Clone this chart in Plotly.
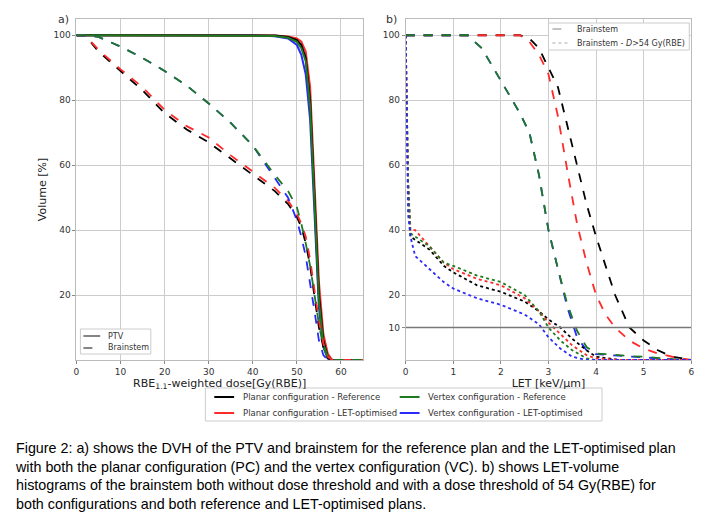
import plotly.graph_objects as go

W, H = 717, 522
BLACK, RED, GREEN, BLUE = "black", "#ff2a2a", "#1e7a1e", "#2a2aff"

# Panel a: DVH
ptv_dose = [0, 40, 45, 48, 50, 51, 52, 53, 54, 55, 56, 57, 58, 65]
ptv_ref_pc = [100, 100, 99.9, 99.5, 98.5, 97, 93, 80, 50, 20, 6, 1, 0, 0]
ptv_let_pc = [100, 100, 99.9, 99.6, 99, 98, 95, 84, 55, 24, 8, 2, 0, 0]
ptv_ref_vc = [100, 100, 99.8, 99.2, 98, 96, 92, 78, 48, 18, 5, 1, 0, 0]
ptv_let_vc = [100, 100, 99.7, 99, 97, 94, 88, 74, 45, 16, 4, 0.5, 0, 0]

bs_dose = [0, 2, 5, 10, 15, 20, 25, 30, 35, 40, 45, 48, 50, 51, 52, 53, 54, 55, 56, 57, 58, 65]
bs_ref_pc = [100, 100, 95, 89, 83, 76, 71, 67, 62, 57, 52, 48, 44, 41, 36, 29, 20, 10, 4, 0.5, 0, 0]
bs_let_pc = [100, 100, 95.5, 89.5, 84, 77, 72, 68.5, 63, 58, 53, 49, 45, 42, 38, 31, 22, 12, 5, 1, 0, 0]
bs_ref_vc = [100, 100, 99.5, 96.5, 93, 89, 84.5, 79, 73, 66, 57, 52, 47, 42, 36, 29, 20, 11, 4, 0.5, 0, 0]
bs_let_vc = [100, 100, 99.5, 96.5, 93, 89, 84.5, 79, 73, 66, 56, 50, 43, 38, 32, 24, 15, 6, 1.5, 0, 0, 0]

# Panel b: LVH
let_d = [0, 1.0, 1.3, 1.6, 2.0, 2.4, 2.6, 2.8, 3.0, 3.2, 3.4, 3.6, 3.8, 4.0, 4.2, 4.4, 4.7, 5.0, 5.3, 5.6, 6.0]
lvh_ref_pc = [100, 100, 100, 100, 100, 100, 99, 96, 90, 84, 72, 60, 48, 38, 29, 20, 10, 6, 3, 1, 0]
lvh_let_pc = [100, 100, 100, 100, 100, 100, 98, 94, 88, 75, 58, 42, 30, 20, 14, 10, 6, 3.5, 2, 1, 0]
lvh_ref_vc = [100, 100, 100, 96, 86, 76, 70, 57, 40, 28, 17, 9, 4, 2, 1.8, 1.5, 1.2, 1, 0.6, 0.3, 0]
lvh_let_vc = [100, 100, 100, 96, 86, 76, 70, 57, 40, 28, 16, 7, 3, 1.8, 1.6, 1.3, 1.1, 0.9, 0.5, 0.2, 0]

dt_let = [0, 0.02, 0.05, 0.1, 0.2, 0.5, 0.8, 1.0, 1.5, 2.0, 2.5, 2.8, 3.0, 3.25, 3.5, 3.8, 4.0, 4.5, 6.0]
dt_ref_pc = [100, 80, 55, 38, 37, 34, 29, 27, 23, 21, 18, 15, 12.5, 10, 6.5, 3, 1, 0, 0]
dt_let_pc = [100, 80, 55, 40, 40, 35, 30, 28, 25, 23, 19, 15, 11.5, 8, 4.5, 1.5, 0.5, 0, 0]
dt_ref_vc = [100, 80, 55, 39, 38, 35, 30, 29, 26, 24, 20, 15, 10, 6, 3, 0.5, 0, 0, 0]
dt_let_vc = [100, 70, 45, 38, 32, 28, 24, 22, 19, 17, 14, 11, 7, 3.5, 1, 0, 0, 0, 0]

names = ["Planar configuration - Reference", "Vertex configuration - Reference",
         "Planar configuration - LET-optimised", "Vertex configuration - LET-optimised"]
cols = [BLACK, GREEN, RED, BLUE]

fig = go.Figure()
def add(x, y, c, dash, xa="x", ya="y", w=1.8):
    fig.add_trace(go.Scatter(x=x, y=y, mode="lines", line=dict(color=c, dash=dash, width=w),
                             xaxis=xa, yaxis=ya, showlegend=False, hoverinfo="skip"))

for y, c in [(ptv_let_vc, BLUE), (ptv_let_pc, RED), (ptv_ref_pc, BLACK), (ptv_ref_vc, GREEN)]:
    add(ptv_dose, y, c, "solid", w=2)
for y, c in [(bs_ref_pc, BLACK), (bs_let_pc, RED), (bs_let_vc, BLUE), (bs_ref_vc, GREEN)]:
    add(bs_dose, y, c, "dash")
for y, c in [(lvh_ref_pc, BLACK), (lvh_let_pc, RED), (lvh_let_vc, BLUE), (lvh_ref_vc, GREEN)]:
    add(let_d, y, c, "dash", "x2", "y2")
for y, c in [(dt_ref_pc, BLACK), (dt_let_pc, RED), (dt_ref_vc, GREEN), (dt_let_vc, BLUE)]:
    add(dt_let, y, c, "dot", "x2", "y2")
add([0, 6], [10, 10], "#777", "solid", "x2", "y2", w=1.5)

ax = dict(showgrid=True, gridcolor="#cccccc", zeroline=False, showline=True, linecolor="#bbbbbb",
          mirror=True, ticks="outside", ticklen=3, tickcolor="#888", tickfont=dict(size=9, color="#333"))
top, bot = 1 - 11 / H, 1 - 352 / H
fig.update_layout(
    width=W, height=H, margin=dict(l=0, r=0, t=0, b=0), paper_bgcolor="white", plot_bgcolor="white",
    font=dict(family="DejaVu Sans", color="#222"), showlegend=False,
    xaxis=dict(ax, domain=[66 / W, 355 / W], range=[0, 65], tickvals=[0, 10, 20, 30, 40, 50, 60],
               title=dict(text="RBE<sub>1.1</sub>-weighted dose[Gy(RBE)]", font=dict(size=11), standoff=2)),
    yaxis=dict(ax, domain=[bot, top], range=[0, 105], tickvals=[20, 40, 60, 80, 100],
               title=dict(text="Volume [%]", font=dict(size=11), standoff=4)),
    xaxis2=dict(ax, domain=[398 / W, 686 / W], range=[0, 6], tickvals=[0, 1, 2, 3, 4, 5, 6], anchor="y2",
                title=dict(text="LET [keV/μm]", font=dict(size=11), standoff=2)),
    yaxis2=dict(ax, domain=[bot, top], range=[0, 105], tickvals=[10, 20, 40, 60, 80, 100], anchor="x2"),
)

def leg_line(x0, x1, yp, dash, color="#666", w=1.6):
    fig.add_shape(type="line", xref="paper", yref="paper", x0=x0 / W, x1=x1 / W, y0=1 - yp / H, y1=1 - yp / H,
                  line=dict(color=color, dash=dash, width=w))
def txt(x, yp, t, size=8, anchor="left"):
    fig.add_annotation(xref="paper", yref="paper", x=x / W, y=1 - yp / H, text=t, showarrow=False,
                       xanchor=anchor, yanchor="middle", font=dict(size=size, color="#333"))
def box(x0, x1, y0, y1):
    fig.add_shape(type="rect", xref="paper", yref="paper", x0=x0 / W, x1=x1 / W, y0=1 - y1 / H, y1=1 - y0 / H,
                  line=dict(color="#ccc", width=1), fillcolor="white")

box(70, 141, 321, 346)
leg_line(73, 90, 328, "solid"); txt(96, 328, "PTV")
leg_line(73, 90, 340, "dash"); txt(96, 340, "Brainstem")
box(542, 684, 15, 42)
leg_line(546, 564, 21, "dash", "#888", 1); txt(569, 21, "Brainstem")
leg_line(546, 564, 35, "dot", "#aaa", 1); txt(569, 35, "Brainstem - <i>D</i>>54 Gy(RBE)")
txt(45, 12, "a)", 11); txt(376, 12, "b)", 11)

# bottom colour legend
box(196, 596, 380, 413)
pos = [(205, 389), (392, 389), (205, 405), (392, 405)]
for (px, py), n, c in zip(pos, names, cols):
    leg_line(px, px + 20, py, "solid", c, 2)
    txt(px + 27, py, n, 8.5)

caption = ("Figure 2: a) shows the DVH of the PTV and brainstem for the reference plan and the LET-optimised plan<br>"
           "with both the planar configuration (PC) and the vertex configuration (VC). b) shows LET-volume<br>"
           "histograms of the brainstem both without dose threshold and with a dose threshold of 54 Gy(RBE) for<br>"
           "both configurations and both reference and LET-optimised plans.")
fig.add_annotation(xref="paper", yref="paper", x=2 / W, y=1 - 430 / H, text=caption, showarrow=False,
                   xanchor="left", yanchor="top", align="left",
                   font=dict(family="Liberation Sans", size=14.3, color="black"))
fig.write_html("out.html")
